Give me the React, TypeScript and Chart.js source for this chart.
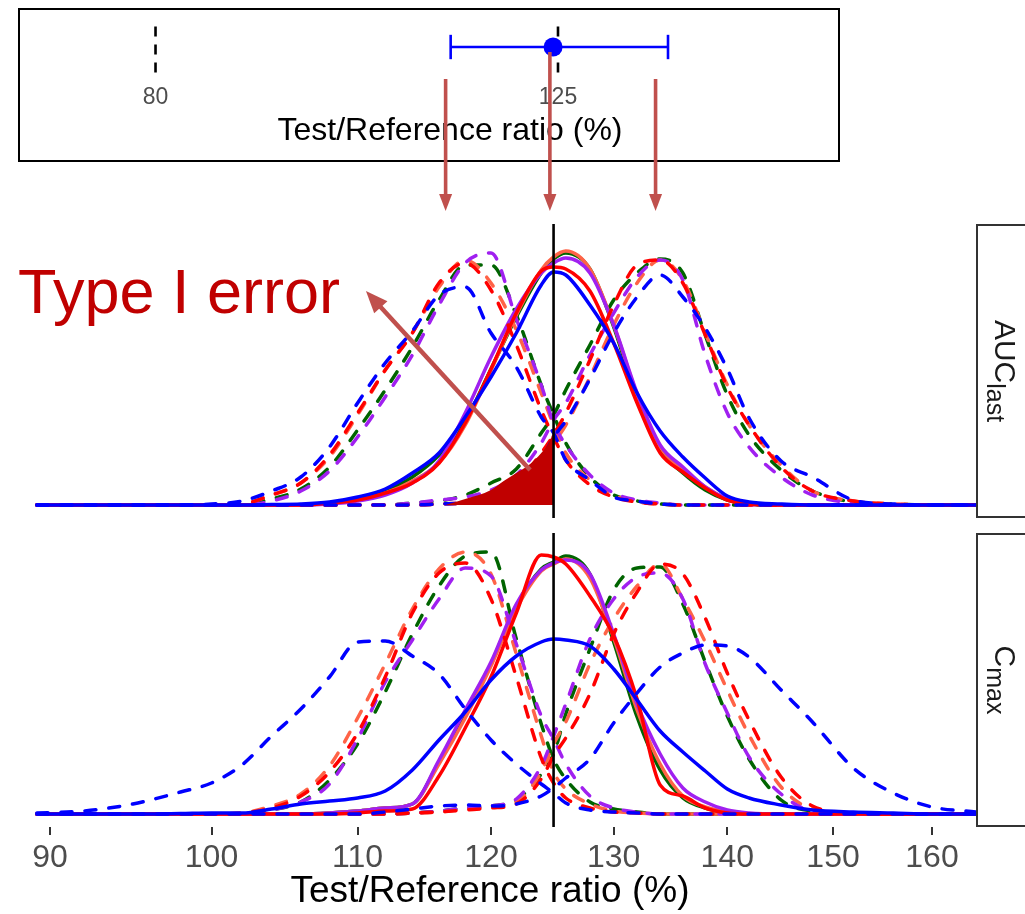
import React, { useEffect, useRef } from "react";
import { Chart, registerables } from "chart.js";

Chart.register(...registerables);

const FONT = "'Liberation Sans', Arial, Helvetica, sans-serif";
Chart.defaults.font.family = FONT;

// ---------- shared x grid (Test/Reference ratio, %) ----------
const X_GRID = [89.24, 92, 95, 98, 100, 102, 104, 106, 108, 110, 112, 114, 116, 118, 120, 122, 124, 125, 126, 128, 130, 132, 134, 136, 138, 140, 142, 145, 148, 152, 156, 160, 164.66];
const X_TICKS = [90, 100, 110, 120, 130, 140, 150, 160];
const X_MIN = 87.34;
const X_MAX = 164.66;
const Y_MIN = -0.052;
const Y_MAX = 1.124;
const REF_RATIO = 125;
const X_TITLE = "Test/Reference ratio (%)";

// ---------- AUClast panel ----------
const AUC_BLUE_SOLID = [0,0,0,0,0,0, 0.002,0.004,0.012,0.032,0.064,0.128,0.208,0.352,0.512,0.688,0.88,0.932,0.92,0.8,0.648,0.448,0.296,0.192,0.108,0.036,0.012,0.004, 0,0,0,0,0];
const AUC_RED_SOLID = [0,0,0,0,0,0,0,0, 0.008,0.02,0.048,0.088,0.168,0.328,0.544,0.768,0.936,0.952,0.944,0.856,0.648,0.408,0.208,0.132,0.068,0.02,0.004, 0,0,0,0,0,0];
const AUC_TOMATO_SOLID = [0,0,0,0,0,0,0,0, 0.008,0.02,0.048,0.096,0.168,0.32,0.54,0.76,0.94,0.992,1.016,0.944,0.72,0.44,0.232,0.14,0.072,0.024,0.004, 0,0,0,0,0,0];
const AUC_GREEN_SOLID = [0,0,0,0,0,0,0,0, 0.008,0.024,0.056,0.112,0.2,0.336,0.544,0.752,0.928,0.984,1.008,0.944,0.712,0.424,0.22,0.128,0.06,0.02,0.004, 0,0,0,0,0,0];
const AUC_PURPLE_SOLID = [0,0,0,0,0,0,0,0, 0.004,0.016,0.04,0.088,0.176,0.368,0.592,0.784,0.928,0.968,0.988,0.928,0.72,0.448,0.24,0.152,0.072,0.024,0.004, 0,0,0,0,0,0];

const AUC_BLUE_DASH_L = [0,0,0,0, 0.004,0.016,0.056,0.112,0.232,0.408,0.568,0.696,0.84,0.872,0.688,0.552,0.352,0.288,0.18,0.1,0.032,0.016,0.004, 0,0,0,0,0,0,0,0,0,0];
const AUC_RED_DASH_L = [0,0,0,0,0, 0.004,0.04,0.088,0.2,0.368,0.54,0.688,0.888,0.968,0.86,0.64,0.38,0.272,0.18,0.08,0.032,0.012,0.004, 0,0,0,0,0,0,0,0,0,0];
const AUC_TOMATO_DASH_L = [0,0,0,0,0, 0.004,0.04,0.088,0.192,0.36,0.54,0.688,0.872,0.98,0.888,0.7,0.448,0.32,0.208,0.1,0.04,0.012,0.004, 0,0,0,0,0,0,0,0,0,0];
const AUC_GREEN_DASH_L = [0,0,0,0,0, 0.004,0.024,0.064,0.152,0.3,0.46,0.632,0.82,0.96,0.96,0.76,0.48,0.36,0.248,0.112,0.04,0.016,0.004, 0,0,0,0,0,0,0,0,0,0];
const AUC_PURPLE_DASH_L = [0,0,0,0,0, 0,0.016,0.056,0.136,0.272,0.432,0.6,0.8,0.968,1.008,0.744,0.48,0.328,0.24,0.12,0.048,0.02,0.008, 0,0,0,0,0,0,0,0,0,0];

const AUC_BLUE_DASH_R = [0,0,0,0,0,0,0,0,0,0,0,0, 0.004,0.008,0.02,0.072,0.18,0.272,0.336,0.504,0.688,0.832,0.92,0.832,0.708,0.544,0.348,0.176,0.112,0.02,0.004, 0,0];
const AUC_TOMATO_DASH_R = [0,0,0,0,0,0,0,0,0,0,0,0, 0.004,0.008,0.024,0.08,0.18,0.248,0.32,0.512,0.72,0.888,0.98,0.9,0.688,0.48,0.32,0.16,0.056,0.016,0.004, 0,0];
const AUC_RED_DASH_R = [0,0,0,0,0,0,0,0,0,0,0,0, 0.004,0.008,0.024,0.088,0.208,0.28,0.368,0.58,0.8,0.96,0.98,0.888,0.68,0.472,0.32,0.152,0.056,0.016,0.004, 0,0];
const AUC_PURPLE_DASH_R = [0,0,0,0,0,0,0,0,0,0,0, 0.008,0.02,0.032,0.06,0.12,0.248,0.34,0.408,0.6,0.768,0.912,0.98,0.9,0.6,0.368,0.232,0.112,0.04,0.008, 0,0,0];
const AUC_GREEN_DASH_R = [0,0,0,0,0,0,0,0,0,0,0, 0.008,0.016,0.04,0.088,0.144,0.288,0.36,0.46,0.64,0.82,0.928,0.984,0.928,0.68,0.44,0.28,0.14,0.056,0.012, 0.004,0,0];

// Type I error shaded region
const TYPE1_X = [116.5, 118, 120, 121, 122, 123, 124, 124.5, 125];
const TYPE1_Y = [0, 0.024, 0.06, 0.096, 0.128, 0.16, 0.208, 0.24, 0.288];

// ---------- Cmax panel ----------
const CMAX_BLUE_SOLID = [0,0,0, 0.002,0.004,0.004,0.02,0.04,0.052,0.064,0.092,0.176,0.296,0.408,0.536,0.632,0.688,0.7,0.696,0.672,0.58,0.456,0.332,0.248,0.172,0.1,0.064,0.036,0.016,0.008,0.004, 0,0];
const CMAX_RED_SOLID = [0,0,0,0,0,0,0,0,0, 0.004,0.012,0.02,0.152,0.344,0.548,0.804,1.036,1.028,1.0,0.872,0.712,0.46,0.116,0.072,0.024,0.004, 0,0,0,0,0,0,0];
const CMAX_GREEN_SOLID = [0,0,0,0,0,0,0,0, 0.004,0.012,0.024,0.04,0.208,0.4,0.6,0.832,0.98,1.008,1.032,0.96,0.688,0.388,0.176,0.064,0.024,0.008, 0,0,0,0,0,0,0];
const CMAX_TOMATO_SOLID = [0,0,0,0,0,0,0,0, 0.004,0.012,0.024,0.04,0.2,0.384,0.592,0.82,0.972,1.0,1.02,0.944,0.704,0.416,0.2,0.072,0.028,0.008, 0,0,0,0,0,0,0];
const CMAX_PURPLE_SOLID = [0,0,0,0,0,0,0,0, 0.004,0.012,0.024,0.04,0.216,0.416,0.608,0.84,0.976,1.004,1.016,0.96,0.72,0.44,0.24,0.104,0.048,0.016,0.004, 0,0,0,0,0,0];

const CMAX_BLUE_DASH_L = [0.004,0.012,0.04,0.088,0.124,0.196,0.312,0.42,0.548,0.688,0.692,0.632,0.56,0.42,0.296,0.2,0.12,0.084,0.044,0.016,0.008,0.004, 0,0,0,0,0,0,0,0,0,0,0];
const CMAX_RED_DASH_L = [0,0,0,0,0, 0.004,0.024,0.072,0.168,0.324,0.548,0.804,0.964,1.004,0.86,0.548,0.224,0.124,0.064,0.024,0.008,0.004, 0,0,0,0,0,0,0,0,0,0,0];
const CMAX_TOMATO_DASH_L = [0,0,0,0,0, 0.004,0.032,0.08,0.192,0.384,0.6,0.82,0.98,1.048,0.96,0.64,0.312,0.168,0.1,0.04,0.012,0.004, 0,0,0,0,0,0,0,0,0,0,0];
const CMAX_GREEN_DASH_L = [0,0,0,0,0, 0,0.016,0.048,0.136,0.28,0.488,0.72,0.912,1.032,1.048,0.7,0.36,0.22,0.14,0.048,0.02,0.008, 0,0,0,0,0,0,0,0,0,0,0];
const CMAX_PURPLE_DASH_L = [0,0,0,0,0, 0,0.016,0.048,0.12,0.3,0.528,0.696,0.86,0.984,0.952,0.68,0.392,0.3,0.2,0.072,0.024,0.008, 0,0,0,0,0,0,0,0,0,0,0];

const CMAX_BLUE_DASH_R = [0,0,0,0,0,0,0,0,0,0, 0.008,0.02,0.032,0.036,0.032,0.04,0.072,0.104,0.144,0.22,0.364,0.484,0.588,0.644,0.676,0.672,0.628,0.496,0.368,0.184,0.084,0.028,0.008];
const CMAX_GREEN_DASH_R = [0,0,0,0,0,0,0,0,0,0,0, 0.004,0.012,0.024,0.032,0.056,0.16,0.24,0.4,0.66,0.896,0.984,0.988,0.84,0.608,0.392,0.22,0.056,0.012,0.004, 0,0,0];
const CMAX_PURPLE_DASH_R = [0,0,0,0,0,0,0,0,0,0,0, 0.004,0.012,0.024,0.032,0.06,0.192,0.312,0.44,0.7,0.86,0.948,0.964,0.86,0.6,0.404,0.228,0.08,0.012,0.004, 0,0,0];
const CMAX_TOMATO_DASH_R = [0,0,0,0,0,0,0,0,0,0,0, 0.004,0.008,0.02,0.028,0.048,0.168,0.28,0.368,0.6,0.78,0.912,1.0,0.86,0.688,0.496,0.316,0.108,0.02,0.004, 0,0,0];
const CMAX_RED_DASH_R = [0,0,0,0,0,0,0,0,0,0,0, 0.004,0.008,0.016,0.024,0.04,0.14,0.232,0.304,0.48,0.72,0.888,1.0,0.96,0.784,0.564,0.376,0.148,0.032,0.004, 0,0,0];

// ---------- inset (confidence interval schematic) ----------
const INSET_TICKS = [80, 125];
const INSET_REF_LINES = [80, 125];
const INSET_CI = [113.0, 137.3];
const INSET_POINT = 124.45;
const INSET_X_MIN = 69.32;
const INSET_X_MAX = 156.53;

// ---------- annotations (data coordinates of the main panel) ----------
const ARROW_X = [116.5, 124.7, 133.6];
const ARROW_FROM_Y = [1.704, 1.812, 1.704];
const ARROW_TO_Y = 1.176;
const TYPE1_TEXT = "Type I error";
const TYPE1_TEXT_POS = { x: 88.14, y: 0.768 };
const TYPE1_ARROW = { x1: 123.1, y1: 0.14, x2: 110.6, y2: 0.856 };

const COLOR = { green: "#006400", tomato: "#FF6347", purple: "#A020F0", red: "#FF0000", blue: "#0000FF" };
const LAYER = { blue: 3, red: 4, purple: 5, tomato: 6, green: 7 };
const ARROW_COLOR = "#C0504D";
const TYPE1_COLOR = "#C00000";

type Curve = { values: number[]; color: string; dashed: boolean; layer: number };

const AUC_CURVES: Curve[] = [
  { values: AUC_GREEN_DASH_L, color: COLOR.green, dashed: true, layer: LAYER.green },
  { values: AUC_GREEN_DASH_R, color: COLOR.green, dashed: true, layer: LAYER.green },
  { values: AUC_GREEN_SOLID, color: COLOR.green, dashed: false, layer: LAYER.green },
  { values: AUC_TOMATO_DASH_L, color: COLOR.tomato, dashed: true, layer: LAYER.tomato },
  { values: AUC_TOMATO_DASH_R, color: COLOR.tomato, dashed: true, layer: LAYER.tomato },
  { values: AUC_TOMATO_SOLID, color: COLOR.tomato, dashed: false, layer: LAYER.tomato },
  { values: AUC_PURPLE_DASH_L, color: COLOR.purple, dashed: true, layer: LAYER.purple },
  { values: AUC_PURPLE_DASH_R, color: COLOR.purple, dashed: true, layer: LAYER.purple },
  { values: AUC_PURPLE_SOLID, color: COLOR.purple, dashed: false, layer: LAYER.purple },
  { values: AUC_RED_DASH_L, color: COLOR.red, dashed: true, layer: LAYER.red },
  { values: AUC_RED_DASH_R, color: COLOR.red, dashed: true, layer: LAYER.red },
  { values: AUC_RED_SOLID, color: COLOR.red, dashed: false, layer: LAYER.red },
  { values: AUC_BLUE_DASH_L, color: COLOR.blue, dashed: true, layer: LAYER.blue },
  { values: AUC_BLUE_DASH_R, color: COLOR.blue, dashed: true, layer: LAYER.blue },
  { values: AUC_BLUE_SOLID, color: COLOR.blue, dashed: false, layer: LAYER.blue },
];

const CMAX_CURVES: Curve[] = [
  { values: CMAX_GREEN_DASH_L, color: COLOR.green, dashed: true, layer: LAYER.green },
  { values: CMAX_GREEN_DASH_R, color: COLOR.green, dashed: true, layer: LAYER.green },
  { values: CMAX_GREEN_SOLID, color: COLOR.green, dashed: false, layer: LAYER.green },
  { values: CMAX_TOMATO_DASH_L, color: COLOR.tomato, dashed: true, layer: LAYER.tomato },
  { values: CMAX_TOMATO_DASH_R, color: COLOR.tomato, dashed: true, layer: LAYER.tomato },
  { values: CMAX_TOMATO_SOLID, color: COLOR.tomato, dashed: false, layer: LAYER.tomato },
  { values: CMAX_PURPLE_DASH_L, color: COLOR.purple, dashed: true, layer: LAYER.purple },
  { values: CMAX_PURPLE_DASH_R, color: COLOR.purple, dashed: true, layer: LAYER.purple },
  { values: CMAX_PURPLE_SOLID, color: COLOR.purple, dashed: false, layer: LAYER.purple },
  { values: CMAX_RED_DASH_L, color: COLOR.red, dashed: true, layer: LAYER.red },
  { values: CMAX_RED_DASH_R, color: COLOR.red, dashed: true, layer: LAYER.red },
  { values: CMAX_RED_SOLID, color: COLOR.red, dashed: false, layer: LAYER.red },
  { values: CMAX_BLUE_DASH_L, color: COLOR.blue, dashed: true, layer: LAYER.blue },
  { values: CMAX_BLUE_DASH_R, color: COLOR.blue, dashed: true, layer: LAYER.blue },
  { values: CMAX_BLUE_SOLID, color: COLOR.blue, dashed: false, layer: LAYER.blue },
];

function curveDataset(c: Curve): any {
  return {
    type: "line",
    data: X_GRID.map((x, i) => ({ x, y: c.values[i] })),
    borderColor: c.color,
    borderWidth: 3.5,
    borderDash: c.dashed ? [11, 13] : [],
    borderCapStyle: "round",
    borderJoinStyle: "round",
    pointRadius: 0,
    fill: false,
    cubicInterpolationMode: "monotone",
    order: c.layer,
  };
}

function vlineDataset(): any {
  return {
    type: "line",
    data: [{ x: REF_RATIO, y: Y_MIN }, { x: REF_RATIO, y: Y_MAX }],
    borderColor: "#000000",
    borderWidth: 2.6,
    pointRadius: 0,
    fill: false,
    order: 0,
  };
}

function drawArrow(ctx: CanvasRenderingContext2D, x1: number, y1: number, x2: number, y2: number, width: number, headLen: number, headW: number) {
  const ang = Math.atan2(y2 - y1, x2 - x1);
  const bx = x2 - headLen * Math.cos(ang);
  const by = y2 - headLen * Math.sin(ang);
  ctx.save();
  ctx.strokeStyle = ARROW_COLOR;
  ctx.fillStyle = ARROW_COLOR;
  ctx.lineWidth = width;
  ctx.lineCap = "butt";
  ctx.beginPath();
  ctx.moveTo(x1, y1);
  ctx.lineTo(bx + 2 * Math.cos(ang), by + 2 * Math.sin(ang));
  ctx.stroke();
  ctx.beginPath();
  ctx.moveTo(x2, y2);
  ctx.lineTo(bx + (headW / 2) * Math.sin(ang), by - (headW / 2) * Math.cos(ang));
  ctx.lineTo(bx - (headW / 2) * Math.sin(ang), by + (headW / 2) * Math.cos(ang));
  ctx.closePath();
  ctx.fill();
  ctx.restore();
}

function drawStrip(ctx: CanvasRenderingContext2D, area: any, main: string, sub: string) {
  ctx.save();
  ctx.fillStyle = "#FFFFFF";
  ctx.fillRect(area.right + 1, area.top, 80, area.bottom - area.top);
  ctx.strokeStyle = "#333333";
  ctx.lineWidth = 2;
  ctx.strokeRect(area.right + 1, area.top + 1, 80, area.bottom - area.top - 2);
  ctx.font = `30px ${FONT}`;
  const w1 = ctx.measureText(main).width;
  ctx.font = `25px ${FONT}`;
  const w2 = ctx.measureText(sub).width;
  const total = w1 + w2;
  const cy = (area.top + area.bottom) / 2;
  ctx.translate(area.right + 19, cy);
  ctx.rotate(Math.PI / 2);
  ctx.fillStyle = "#1A1A1A";
  ctx.textBaseline = "alphabetic";
  ctx.textAlign = "left";
  ctx.font = `30px ${FONT}`;
  ctx.fillText(main, -total / 2, 0);
  ctx.font = `25px ${FONT}`;
  ctx.fillText(sub, -total / 2 + w1, 8);
  ctx.restore();
}

function panelConfig(which: "auc" | "cmax"): any {
  const isAuc = which === "auc";
  const curves = isAuc ? AUC_CURVES : CMAX_CURVES;
  const datasets: any[] = curves.map(curveDataset);
  datasets.push(vlineDataset());
  if (isAuc) {
    datasets.push({
      type: "line",
      data: TYPE1_X.map((x, i) => ({ x, y: TYPE1_Y[i] })),
      borderWidth: 0,
      borderColor: TYPE1_COLOR,
      backgroundColor: TYPE1_COLOR,
      pointRadius: 0,
      fill: "origin",
      cubicInterpolationMode: "monotone",
      order: 1,
    });
  }
  const annot = {
    id: "panelAnnotations_" + which,
    afterDraw(chart: any) {
      const { ctx, chartArea } = chart;
      const xs = chart.scales.x;
      const ys = chart.scales.y;
      if (isAuc) {
        drawStrip(ctx, chartArea, "AUC", "last");
        ctx.save();
        ctx.font = `63px ${FONT}`;
        ctx.fillStyle = TYPE1_COLOR;
        ctx.textBaseline = "alphabetic";
        ctx.textAlign = "left";
        ctx.fillText(TYPE1_TEXT, xs.getPixelForValue(TYPE1_TEXT_POS.x), ys.getPixelForValue(TYPE1_TEXT_POS.y));
        ctx.restore();
        drawArrow(
          ctx,
          xs.getPixelForValue(TYPE1_ARROW.x1), ys.getPixelForValue(TYPE1_ARROW.y1),
          xs.getPixelForValue(TYPE1_ARROW.x2), ys.getPixelForValue(TYPE1_ARROW.y2),
          4.5, 22, 18
        );
        ARROW_X.forEach((v, i) => {
          const px = xs.getPixelForValue(v);
          drawArrow(ctx, px, ys.getPixelForValue(ARROW_FROM_Y[i]), px, ys.getPixelForValue(ARROW_TO_Y), 3.6, 17, 13);
        });
      } else {
        drawStrip(ctx, chartArea, "C", "max");
      }
    },
  };

  const xAxis: any = isAuc
    ? { type: "logarithmic", min: X_MIN, max: X_MAX, display: false }
    : {
        type: "logarithmic",
        min: X_MIN,
        max: X_MAX,
        display: true,
        afterBuildTicks: (s: any) => {
          s.ticks = X_TICKS.map((v) => ({ value: v }));
        },
        afterFit: (s: any) => {
          s.height = 87;
        },
        grid: { display: true, drawOnChartArea: false, drawTicks: true, tickLength: 8, color: "#333333", lineWidth: 2 },
        border: { display: false },
        ticks: {
          autoSkip: false,
          maxRotation: 0,
          padding: 4,
          color: "#4D4D4D",
          font: { size: 32, family: FONT },
          callback: (v: any) => String(v),
        },
        title: {
          display: true,
          text: X_TITLE,
          color: "#000000",
          font: { size: 37, family: FONT },
          padding: { top: 0, bottom: 0 },
        },
      };

  return {
    type: "line",
    data: { datasets },
    plugins: [annot],
    options: {
      responsive: false,
      animation: false,
      events: [],
      devicePixelRatio: 1,
      layout: {
        autoPadding: false,
        padding: isAuc ? { left: 4, right: 49, top: 224, bottom: 0 } : { left: 4, right: 49, top: 0, bottom: 0 },
      },
      plugins: { legend: { display: false }, tooltip: { enabled: false } },
      scales: {
        x: xAxis,
        y: { type: "linear", min: Y_MIN, max: Y_MAX, display: false },
      },
    },
  };
}

function insetConfig(): any {
  const datasets: any[] = [];
  INSET_REF_LINES.forEach((r) => {
    datasets.push({
      type: "line",
      data: [{ x: r, y: -1 }, { x: r, y: 1 }],
      borderColor: "#000000",
      borderWidth: 2.6,
      borderDash: [10, 8],
      pointRadius: 0,
      order: 3,
    });
  });
  datasets.push({
    type: "line",
    data: [{ x: INSET_CI[0], y: 0 }, { x: INSET_CI[1], y: 0 }],
    borderColor: COLOR.blue,
    borderWidth: 2.6,
    pointRadius: 0,
    order: 2,
  });
  INSET_CI.forEach((c) => {
    datasets.push({
      type: "line",
      data: [{ x: c, y: -0.48 }, { x: c, y: 0.48 }],
      borderColor: COLOR.blue,
      borderWidth: 2.6,
      pointRadius: 0,
      order: 2,
    });
  });
  datasets.push({
    type: "scatter",
    data: [{ x: INSET_POINT, y: 0 }],
    backgroundColor: COLOR.blue,
    borderColor: COLOR.blue,
    borderWidth: 0,
    pointRadius: 9.5,
    order: 1,
  });
  return {
    type: "line",
    data: { datasets },
    options: {
      responsive: false,
      animation: false,
      events: [],
      devicePixelRatio: 1,
      layout: { autoPadding: false, padding: { left: 42, right: 0, top: 6, bottom: 0 } },
      plugins: { legend: { display: false }, tooltip: { enabled: false } },
      scales: {
        x: {
          type: "linear",
          min: INSET_X_MIN,
          max: INSET_X_MAX,
          afterBuildTicks: (s: any) => {
            s.ticks = INSET_TICKS.map((v) => ({ value: v }));
          },
          afterFit: (s: any) => {
            s.height = 82;
          },
          grid: { display: false, drawTicks: false },
          border: { display: false },
          ticks: {
            autoSkip: false,
            maxRotation: 0,
            padding: 4,
            color: "#4D4D4D",
            font: { size: 23, family: FONT },
            callback: (v: any) => String(v),
          },
          title: {
            display: true,
            text: X_TITLE,
            color: "#000000",
            font: { size: 32, family: FONT },
            padding: { top: 0, bottom: 12 },
          },
        },
        y: { type: "linear", min: -1.3, max: 1.3, display: false },
      },
    },
  };
}

export default function App() {
  const insetRef = useRef<HTMLCanvasElement>(null);
  const topRef = useRef<HTMLCanvasElement>(null);
  const botRef = useRef<HTMLCanvasElement>(null);

  useEffect(() => {
    const charts: Chart[] = [];
    if (insetRef.current) charts.push(new Chart(insetRef.current, insetConfig()));
    if (topRef.current) charts.push(new Chart(topRef.current, panelConfig("auc")));
    if (botRef.current) charts.push(new Chart(botRef.current, panelConfig("cmax")));
    return () => {
      charts.forEach((c) => c.destroy());
    };
  }, []);

  return (
    <div style={{ position: "fixed", left: 0, top: 0, width: 1025, height: 914, background: "#FFFFFF", overflow: "hidden" }}>
      <canvas
        ref={insetRef}
        width={822}
        height={154}
        style={{ position: "absolute", left: 18, top: 8, width: 822, height: 154, background: "#FFFFFF", zIndex: 1 }}
      />
      <div
        style={{
          position: "absolute",
          left: 18,
          top: 8,
          width: 822,
          height: 154,
          border: "2.5px solid #000000",
          boxSizing: "border-box",
          zIndex: 2,
          pointerEvents: "none",
        }}
      />
      <canvas
        ref={topRef}
        width={1025}
        height={518}
        style={{ position: "absolute", left: 0, top: 0, width: 1025, height: 518, zIndex: 3 }}
      />
      <canvas
        ref={botRef}
        width={1025}
        height={381}
        style={{ position: "absolute", left: 0, top: 533, width: 1025, height: 381, zIndex: 3 }}
      />
    </div>
  );
}
